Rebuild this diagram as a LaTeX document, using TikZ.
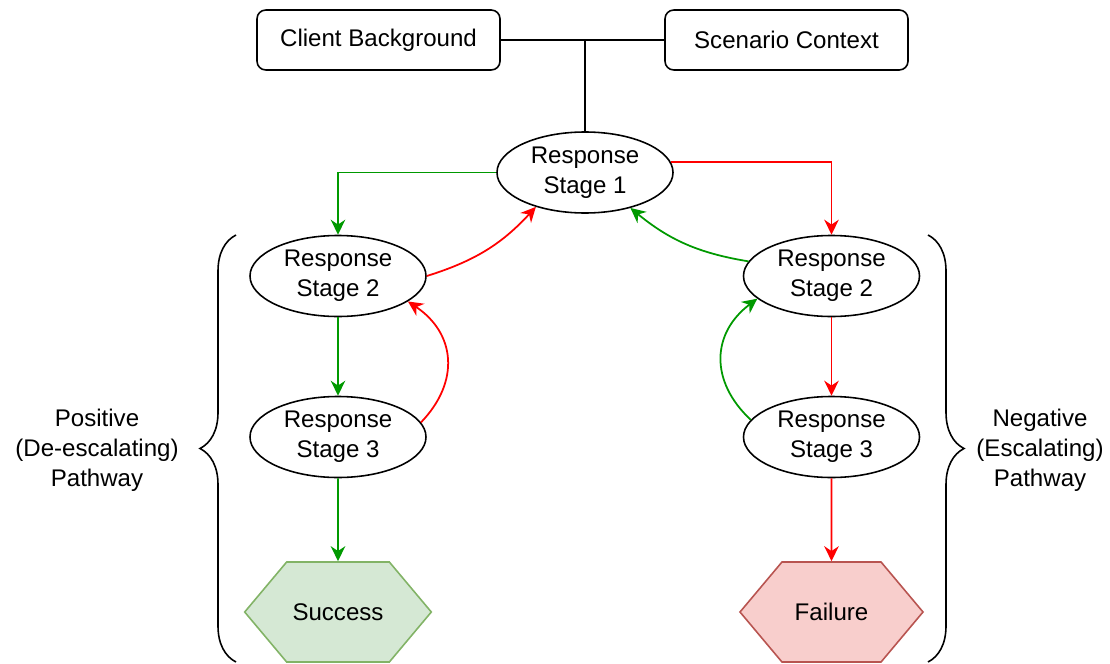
\documentclass[tikz,border=0pt]{standalone}
\usepackage{fontspec}
\setmainfont{Liberation Sans}
\usetikzlibrary{shapes.geometric,shapes.symbols,arrows.meta,positioning,decorations.pathreplacing}
\definecolor{posgreen}{RGB}{0,153,0}
\definecolor{negred}{RGB}{255,0,0}
\definecolor{succfill}{HTML}{D5E8D4}
\definecolor{succline}{HTML}{82B366}
\definecolor{failfill}{HTML}{F8CECC}
\definecolor{failline}{HTML}{B85450}

\begin{document}
\begin{tikzpicture}[
    font=\fontsize{13.7}{17}\selectfont,
    line width=0.9pt,
    infobox/.style={draw, rounded corners=5pt, minimum width=4.86cm, minimum height=1.2cm},
    stage/.style={draw, ellipse, minimum width=3.52cm, minimum height=1.62cm, inner sep=0pt, align=center},
    outcome/.style={signal, signal to=west and east, signal pointer angle=100,
                    minimum width=3.66cm, minimum height=2cm},
    goodarrow/.style={-{Stealth[length=3mm,width=2.9mm]}, posgreen, line width=1pt},
    badarrow/.style={-{Stealth[length=3mm,width=2.9mm]}, negred, line width=1pt},
    pathbrace/.style={decorate, decoration={brace, amplitude=0.72cm}}
]
    \useasboundingbox (0,0) rectangle (22.2,-13.28);

    % inputs
    \node[infobox] (client) at (7.57, -0.8) {Client Background};
    \node[infobox] (scenario) at (15.73, -0.8) {Scenario Context};
    \node[stage] (stage1) at (11.7, -3.45) {Response\\Stage 1};
    \coordinate (junct) at (stage1.north |- client.east);

    % positive side
    \node[stage] (stageL2) at (6.76, -5.52) {Response\\Stage 2};
    \node[stage] (stageL3) at (6.76, -8.74) {Response\\Stage 3};
    \node[outcome, fill=succfill, draw=succline] (success) at (6.76, -12.24) {Success};

    % negative side
    \node[stage] (stageR2) at (16.63, -5.52) {Response\\Stage 2};
    \node[stage] (stageR3) at (16.63, -8.74) {Response\\Stage 3};
    \node[outcome, fill=failfill, draw=failline] (failure) at (16.63, -12.24) {Failure};

    \draw (client) -- (scenario);
    \draw (junct) -- (stage1);

    \draw[goodarrow] (stage1.west) -| (stageL2.north);
    \draw[badarrow] (stage1.7) -| (stageR2.north);
    \draw[badarrow] (stageL2.east) to[bend right=15] (stage1.215);
    \draw[goodarrow] (stageR2.170) to[bend left=15] (stage1.322);

    \draw[goodarrow] (stageL2) -- (stageL3);
    \draw[badarrow] (stageL3.10) to[bend right=50, looseness=1.2] (stageL2.-20);
    \draw[badarrow] (stageR2) -- (stageR3);
    \draw[goodarrow] (stageR3.168) to[bend left=50, looseness=1.2] (stageR2.197);

    \draw[goodarrow] (stageL3) -- (success);
    \draw[badarrow] (stageR3) -- (failure);

    % braces and labels
    \coordinate (posTop) at (4.72, -4.70);
    \coordinate (posBot) at (4.72, -13.24);
    \coordinate (negTop) at (18.56, -4.70);
    \coordinate (negBot) at (18.56, -13.24);
    \draw[pathbrace] (posBot) -- (posTop);
    \draw[pathbrace] (negTop) -- (negBot);

    \node[align=center] (poslabel) at (1.94, -9.0) {Positive\\(De-escalating)\\Pathway};
    \node[align=center] (neglabel) at (20.8, -9.0) {Negative\\(Escalating)\\Pathway};
\end{tikzpicture}
\end{document}
